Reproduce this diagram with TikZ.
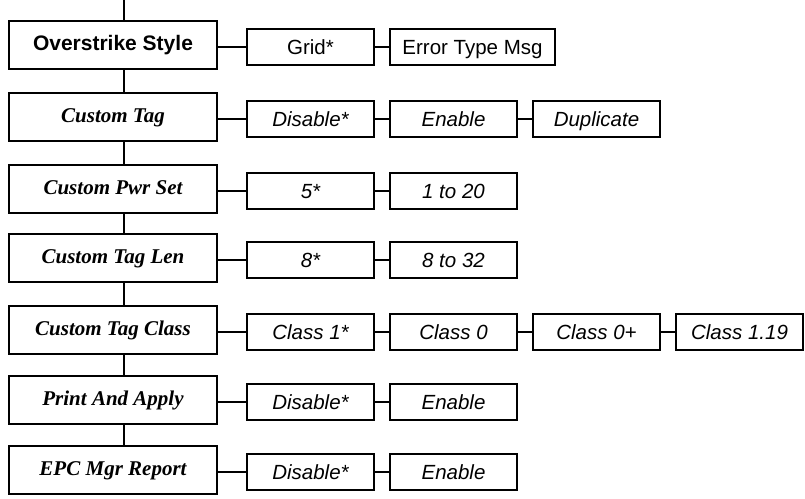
\documentclass[tikz,border=0pt]{standalone}
\usepackage{fontspec}
\setmainfont{Liberation Serif}
\setsansfont{Liberation Sans}
\usepackage{tikz}

\tikzset{
  menubox/.style={draw, line width=1.8pt, minimum width=208pt, minimum height=48pt,
    inner sep=0pt, text height=15pt, text depth=5pt,
    font=\fontsize{21}{21}\selectfont\bfseries\itshape},
  optbox/.style={draw, line width=1.8pt, minimum width=127pt, minimum height=36pt,
    inner sep=0pt, text height=15pt, text depth=0pt,
    font=\fontsize{20.5}{21}\selectfont\sffamily\itshape},
  upright/.style={font=\fontsize{20.5}{21}\selectfont\sffamily},
  link/.style={line width=1.8pt}
}

\begin{document}
\begin{tikzpicture}[x=1pt,y=-1pt]
\useasboundingbox (0,0) rectangle (805,498);

% Menu column
\node[menubox, font=\fontsize{21}{21}\selectfont\sffamily\bfseries] (ovr) at (113,45) {Overstrike Style};
\node[menubox] (tag) at (113,117) {Custom Tag};
\node[menubox] (pwr) at (113,189) {Custom Pwr Set};
\node[menubox] (len) at (113,258) {Custom Tag Len};
\node[menubox] (cls) at (113,330) {Custom Tag Class};
\node[menubox] (pna) at (113,400) {Print And Apply};
\node[menubox] (epc) at (113,470) {EPC Mgr Report};

\coordinate (entry) at (124,0);
\draw[link] (entry) -- ([xshift=11pt]ovr.north);
\draw[link] ([xshift=11pt]ovr.south) -- ([xshift=11pt]tag.north);
\draw[link] ([xshift=11pt]tag.south) -- ([xshift=11pt]pwr.north);
\draw[link] ([xshift=11pt]pwr.south) -- ([xshift=11pt]len.north);
\draw[link] ([xshift=11pt]len.south) -- ([xshift=11pt]cls.north);
\draw[link] ([xshift=11pt]cls.south) -- ([xshift=11pt]pna.north);
\draw[link] ([xshift=11pt]pna.south) -- ([xshift=11pt]epc.north);

% Options
\node[optbox, upright] (ovr1) at (310.5,47) {Grid*};
\node[optbox, upright, minimum width=165pt] (ovr2) at (472.5,47) {Error Type Msg};

\node[optbox] (tag1) at (310.5,119) {Disable*};
\node[optbox] (tag2) at (453.5,119) {Enable};
\node[optbox] (tag3) at (596.5,119) {Duplicate};

\node[optbox] (pwr1) at (310.5,191) {5*};
\node[optbox] (pwr2) at (453.5,191) {1 to 20};

\node[optbox] (len1) at (310.5,260) {8*};
\node[optbox] (len2) at (453.5,260) {8 to 32};

\node[optbox] (cls1) at (310.5,332) {Class 1*};
\node[optbox] (cls2) at (453.5,332) {Class 0};
\node[optbox] (cls3) at (596.5,332) {Class 0+};
\node[optbox] (cls4) at (739.5,332) {Class 1.19};

\node[optbox] (pna1) at (310.5,402) {Disable*};
\node[optbox] (pna2) at (453.5,402) {Enable};

\node[optbox] (epc1) at (310.5,472) {Disable*};
\node[optbox] (epc2) at (453.5,472) {Enable};

% Links to options
\draw[link] (ovr.east |- ovr1.west) -- (ovr1.west);
\draw[link] (ovr1.east) -- (ovr2.west);
\draw[link] (tag.east |- tag1.west) -- (tag1.west);
\draw[link] (tag1.east) -- (tag2.west);
\draw[link] (tag2.east) -- (tag3.west);
\draw[link] (pwr.east |- pwr1.west) -- (pwr1.west);
\draw[link] (pwr1.east) -- (pwr2.west);
\draw[link] (len.east |- len1.west) -- (len1.west);
\draw[link] (len1.east) -- (len2.west);
\draw[link] (cls.east |- cls1.west) -- (cls1.west);
\draw[link] (cls1.east) -- (cls2.west);
\draw[link] (cls2.east) -- (cls3.west);
\draw[link] (cls3.east) -- (cls4.west);
\draw[link] (pna.east |- pna1.west) -- (pna1.west);
\draw[link] (pna1.east) -- (pna2.west);
\draw[link] (epc.east |- epc1.west) -- (epc1.west);
\draw[link] (epc1.east) -- (epc2.west);

\end{tikzpicture}
\end{document}
